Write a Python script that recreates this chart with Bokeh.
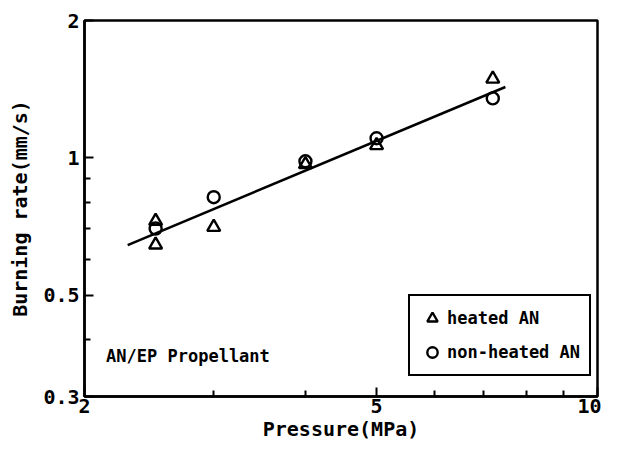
from bokeh.plotting import figure
from bokeh.models import Range1d, FixedTicker, CustomJSTickFormatter, Legend, LegendItem, Label
from bokeh.embed import file_html
from bokeh.resources import INLINE

# Data
heated_pressure = [2.5, 2.5, 3.0, 4.0, 5.0, 7.2]
heated_rate = [0.727, 0.645, 0.705, 0.968, 1.065, 1.49]
nonheated_pressure = [2.5, 3.0, 4.0, 5.0, 7.2]
nonheated_rate = [0.700, 0.820, 0.983, 1.104, 1.350]
fit_pressure = [2.29, 7.49]
fit_rate = [0.644, 1.43]

x_major = [2, 5, 10]
x_minor = [3, 4, 6, 7, 8, 9]
y_major = [0.3, 0.5, 1, 2]
y_minor = [0.4, 0.6, 0.7, 0.8, 0.9]

FONT = "DejaVu Sans Mono"

p = figure(width=601, height=443, x_axis_type="log", y_axis_type="log",
           x_range=Range1d(2, 10), y_range=Range1d(0.3, 2),
           output_backend="svg", toolbar_location=None,
           min_border_left=84, min_border_right=4, min_border_top=20, min_border_bottom=46)

p.background_fill_color = "white"
p.border_fill_color = "white"
p.outline_line_color = "black"
p.outline_line_width = 2.5
p.outline_line_alpha = 1
p.xgrid.visible = False
p.ygrid.visible = False

p.xaxis.ticker = FixedTicker(ticks=x_major, minor_ticks=x_minor)
p.yaxis.ticker = FixedTicker(ticks=y_major, minor_ticks=y_minor)
fmt = CustomJSTickFormatter(code="return tick.toString();")
for ax in (p.xaxis, p.yaxis):
    ax.formatter = fmt
    ax.axis_line_color = "black"
    ax.axis_line_width = 2.5
    ax.major_tick_in = 9
    ax.major_tick_out = 0
    ax.minor_tick_in = 6
    ax.minor_tick_out = 0
    ax.major_tick_line_width = 2
    ax.minor_tick_line_width = 2
    ax.major_tick_line_color = "black"
    ax.minor_tick_line_color = "black"
    ax.major_label_text_font = FONT
    ax.major_label_text_font_style = "bold"
    ax.major_label_text_font_size = "20px"
    ax.major_label_text_color = "black"
    ax.axis_label_text_font = FONT
    ax.axis_label_text_font_style = "bold"
    ax.axis_label_text_font_size = "20px"
    ax.axis_label_text_color = "black"
    ax.major_label_standoff = 2
    ax.axis_label_standoff = 1

p.xaxis.axis_label = "Pressure(MPa)"
p.yaxis.axis_label = "Burning rate(mm/s)"
p.yaxis.axis_label_standoff = 8
p.yaxis.major_label_standoff = 5

p.line(fit_pressure, fit_rate, line_color="black", line_width=2.5)
r_tri = p.scatter(heated_pressure, heated_rate, marker="triangle", size=13,
                  fill_color=None, line_color="black", line_width=2.4)
r_cir = p.scatter(nonheated_pressure, nonheated_rate, marker="circle", size=12,
                  fill_color=None, line_color="black", line_width=2.4)

legend = Legend(items=[LegendItem(label="heated AN", renderers=[r_tri]),
                       LegendItem(label="non-heated AN", renderers=[r_cir])],
                location=(324, 20))
legend.label_text_font = FONT
legend.label_text_font_style = "bold"
legend.label_text_font_size = "17px"
legend.label_text_color = "black"
legend.border_line_color = "black"
legend.border_line_alpha = 1
legend.border_line_width = 2
legend.background_fill_color = "white"
legend.background_fill_alpha = 1
legend.glyph_width = 26
legend.glyph_height = 26
legend.label_standoff = 2
legend.padding = 9
legend.spacing = 8
legend.margin = 0
p.add_layout(legend, "center")

p.add_layout(Label(x=2.14, y=0.368, text="AN/EP Propellant", text_font=FONT,
                   text_font_style="bold", text_font_size="17px",
                   text_baseline="middle", text_color="black"))

open("out.html", "w").write(file_html(p, INLINE))
